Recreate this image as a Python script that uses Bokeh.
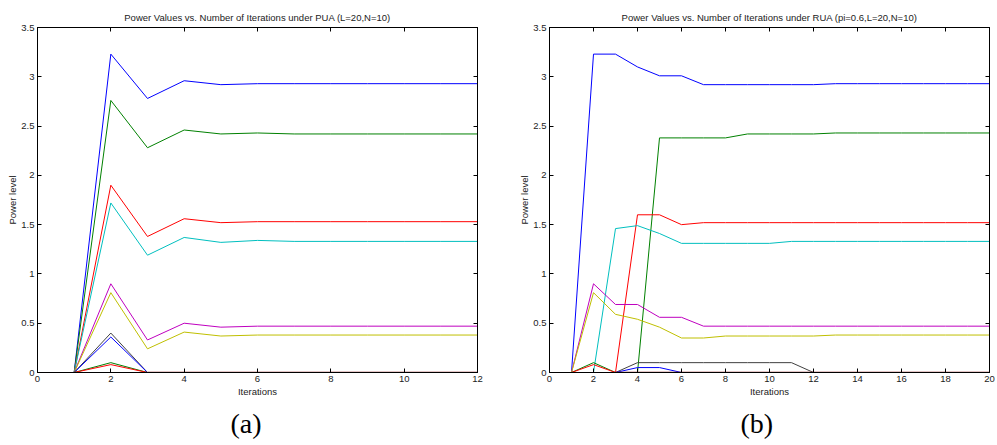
from bokeh.plotting import figure
from bokeh.layouts import row
from bokeh.models import Range1d, FixedTicker, LinearAxis, Title
from bokeh.embed import file_html
from bokeh.resources import INLINE

# ---------------- data ----------------
y_ticks = [0, 0.5, 1, 1.5, 2, 2.5, 3, 3.5]
y_tick_labels = ["0", "0.5", "1", "1.5", "2", "2.5", "3", "3.5"]
x_ticks_a = [0, 2, 4, 6, 8, 10, 12]
x_ticks_b = [0, 2, 4, 6, 8, 10, 12, 14, 16, 18, 20]

baseline_x = [0, 1]
baseline_y = [0, 0]

# (a) PUA, iterations 1..12
iters_a = list(range(1, 13))
pua_blue    = [0, 3.23, 2.78, 2.96, 2.92, 2.93, 2.93, 2.93, 2.93, 2.93, 2.93, 2.93]
pua_green   = [0, 2.76, 2.28, 2.46, 2.42, 2.43, 2.42, 2.42, 2.42, 2.42, 2.42, 2.42]
pua_red     = [0, 1.90, 1.38, 1.56, 1.52, 1.53, 1.53, 1.53, 1.53, 1.53, 1.53, 1.53]
pua_cyan    = [0, 1.72, 1.19, 1.37, 1.32, 1.34, 1.33, 1.33, 1.33, 1.33, 1.33, 1.33]
pua_magenta = [0, 0.90, 0.33, 0.50, 0.46, 0.47, 0.47, 0.47, 0.47, 0.47, 0.47, 0.47]
pua_yellow  = [0, 0.81, 0.24, 0.41, 0.37, 0.38, 0.38, 0.38, 0.38, 0.38, 0.38, 0.38]
pua_black   = [0, 0.40, 0, 0, 0, 0, 0, 0, 0, 0, 0, 0]
pua_blue2   = [0, 0.36, 0, 0, 0, 0, 0, 0, 0, 0, 0, 0]
pua_green2  = [0, 0.10, 0, 0, 0, 0, 0, 0, 0, 0, 0, 0]
pua_red2    = [0, 0.08, 0, 0, 0, 0, 0, 0, 0, 0, 0, 0]
iters_a_tail = list(range(3, 13))
pua_darkred = [0] * 10

# (b) RUA, iterations 1..20
iters_b = list(range(1, 21))
rua_blue    = [0, 3.23, 3.23, 3.10, 3.01, 3.01, 2.92, 2.92, 2.92, 2.92,
               2.92, 2.92, 2.93, 2.93, 2.93, 2.93, 2.93, 2.93, 2.93, 2.93]
rua_green   = [0, 0, 0, 0, 2.38, 2.38, 2.38, 2.38, 2.42, 2.42,
               2.42, 2.42, 2.43, 2.43, 2.43, 2.43, 2.43, 2.43, 2.43, 2.43]
rua_red     = [0, 0, 0, 1.60, 1.60, 1.50, 1.52, 1.52, 1.52, 1.52,
               1.52, 1.52, 1.52, 1.52, 1.52, 1.52, 1.52, 1.52, 1.52, 1.52]
rua_cyan    = [0, 0, 1.46, 1.49, 1.41, 1.31, 1.31, 1.31, 1.31, 1.31,
               1.33, 1.33, 1.33, 1.33, 1.33, 1.33, 1.33, 1.33, 1.33, 1.33]
rua_magenta = [0, 0.90, 0.69, 0.69, 0.56, 0.56, 0.47, 0.47, 0.47, 0.47,
               0.47, 0.47, 0.47, 0.47, 0.47, 0.47, 0.47, 0.47, 0.47, 0.47]
rua_yellow  = [0, 0.81, 0.59, 0.54, 0.46, 0.35, 0.35, 0.37, 0.37, 0.37,
               0.37, 0.37, 0.38, 0.38, 0.38, 0.38, 0.38, 0.38, 0.38, 0.38]
rua_black   = [0, 0, 0, 0.10, 0.10, 0.10, 0.10, 0.10, 0.10, 0.10,
               0.10, 0, 0, 0, 0, 0, 0, 0, 0, 0]
rua_blue2   = [0, 0, 0, 0.05, 0.05, 0, 0, 0, 0, 0,
               0, 0, 0, 0, 0, 0, 0, 0, 0, 0]
rua_green2  = [0, 0.10, 0, 0, 0, 0, 0, 0, 0, 0,
               0, 0, 0, 0, 0, 0, 0, 0, 0, 0]
rua_red2    = [0, 0.08, 0, 0, 0, 0, 0, 0, 0, 0,
               0, 0, 0, 0, 0, 0, 0, 0, 0, 0]
iters_b_tail = list(range(3, 21))
rua_darkred = [0] * 18

C_B, C_G, C_R = "#0000FF", "#008000", "#FF0000"
C_C, C_M, C_Y, C_K = "#00BFBF", "#BF00BF", "#BFBF00", "#404040"
C_DR = "#8B1A1A"

FONT = "Liberation Sans"
TXT = "#222222"


def make_fig(width, border_left, border_right, title, xmax, xticks, caption, cap_offset):
    p = figure(width=width, height=445, output_backend="svg", toolbar_location=None,
               x_range=Range1d(0, xmax), y_range=Range1d(0, 3.5),
               min_border_left=border_left, min_border_right=border_right,
               min_border_top=27, min_border_bottom=72)
    p.title.text = title
    p.title.align = "center"
    p.title.text_font = FONT
    p.title.text_font_size = "9.5px"
    p.title.text_font_style = "normal"
    p.title.text_color = TXT
    p.title.standoff = 9
    p.xgrid.visible = False
    p.ygrid.visible = False
    p.outline_line_color = "black"
    p.outline_line_width = 1
    p.background_fill_color = "white"
    p.border_fill_color = "white"

    p.xaxis.ticker = FixedTicker(ticks=xticks)
    p.yaxis.ticker = FixedTicker(ticks=y_ticks)
    p.yaxis.major_label_overrides = {t: s for t, s in zip(y_ticks, y_tick_labels)}
    p.xaxis.major_label_overrides = {t: str(t) for t in xticks}
    for ax in (p.xaxis[0], p.yaxis[0]):
        ax.major_tick_in = 4
        ax.major_tick_out = 0
        ax.minor_tick_line_color = None
        ax.major_label_text_font = FONT
        ax.major_label_text_font_size = "9.5px"
        ax.major_label_text_color = TXT
        ax.axis_label_text_font = FONT
        ax.axis_label_text_font_size = "9.5px"
        ax.axis_label_text_font_style = "normal"
        ax.axis_label_text_color = TXT
        ax.axis_line_color = "black"
        ax.major_tick_line_color = "black"
        ax.major_label_standoff = 3
    p.xaxis.axis_label = "Iterations"
    p.yaxis.axis_label = "Power level"
    p.xaxis.axis_label_standoff = 1
    p.yaxis.axis_label_standoff = 0

    top = LinearAxis(ticker=FixedTicker(ticks=xticks), major_tick_in=4, major_tick_out=0,
                     minor_tick_line_color=None, major_label_text_font_size="1px",
                     major_label_text_color=None,
                     major_label_standoff=0, axis_line_color="black")
    right = LinearAxis(ticker=FixedTicker(ticks=y_ticks), major_tick_in=4, major_tick_out=0,
                       minor_tick_line_color=None, major_label_text_font_size="1px",
                       major_label_text_color=None,
                       major_label_standoff=0, axis_line_color="black")
    p.add_layout(top, "above")
    p.add_layout(right, "right")

    cap = Title(text=caption, align="left", offset=cap_offset,
                text_font="Liberation Serif", text_font_size="28px",
                text_font_style="normal", text_color="black", standoff=13)
    p.add_layout(cap, "below")
    return p


pa = make_fig(508, 37, 31, "Power Values vs. Number of Iterations under PUA (L=20,N=10)",
              12, x_ticks_a, "(a)", 193)
pa.line(baseline_x, baseline_y, line_color=C_K, line_width=1)
for ys, c in [(pua_blue, C_B), (pua_green, C_G), (pua_red, C_R), (pua_cyan, C_C),
              (pua_magenta, C_M), (pua_yellow, C_Y), (pua_black, C_K),
              (pua_blue2, C_B), (pua_green2, C_G), (pua_red2, C_R)]:
    pa.line(iters_a, ys, line_color=c, line_width=1)
pa.line(iters_a_tail, pua_darkred, line_color=C_DR, line_width=1.5)

pb = make_fig(489, 41, 8, "Power Values vs. Number of Iterations under RUA (pi=0.6,L=20,N=10)",
              20, x_ticks_b, "(b)", 191)
pb.line(baseline_x, baseline_y, line_color=C_K, line_width=1)
for ys, c in [(rua_blue, C_B), (rua_green, C_G), (rua_red, C_R), (rua_cyan, C_C),
              (rua_magenta, C_M), (rua_yellow, C_Y), (rua_black, C_K),
              (rua_green2, C_G), (rua_red2, C_R), (rua_blue2, C_B)]:
    pb.line(iters_b, ys, line_color=c, line_width=1)
pb.line(iters_b_tail, rua_darkred, line_color=C_DR, line_width=1.5)

layout = row(pa, pb)
open("out.html", "w").write(file_html(layout, INLINE))
